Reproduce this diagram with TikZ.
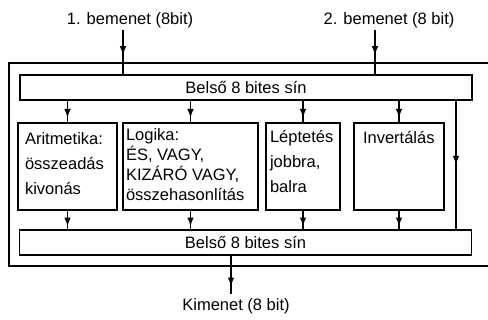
\documentclass[tikz,border=0pt]{standalone}
\usepackage{fontspec}
\setmainfont{Liberation Sans}
\usetikzlibrary{arrows.meta, decorations.markings}

\begin{document}
\begin{tikzpicture}[
    x=1pt, y=-1pt, line width=1.4pt,
    every node/.style={font=\fontsize{16.5}{20}\selectfont},
]

% ---------------------------------------------------------------- styles
\tikzset{
    busbar/.style={
        rectangle, draw, minimum width=452, minimum height=25, inner sep=0pt,
    },
    unitbox/.style={
        rectangle, draw, minimum height=87, inner sep=0pt,
    },
    unitlabel/.style={
        anchor=north west, inner sep=0pt, align=left,
    },
    midflow/.style={
        postaction={decorate},
        decoration={markings,
            mark=at position #1 with {\arrow{Latex[length=9pt, width=6.5pt]}}},
    },
}

\useasboundingbox (0,0) rectangle (488,320);

% ---------------------------------------------------------------- frame
\draw (494,63) -- (9,63) -- (9,266) -- (494,266);

% ---------------------------------------------------------------- buses
\node[busbar] (bustop) at (246,87.5) {Belső 8 bites sín};
\node[busbar] (busbot) at (245.5,242.5) {Belső 8 bites sín};

% ---------------------------------------------------------------- units
\node[unitbox, minimum width=99] (arit) at (67.5,166.5) {};
\node[unitbox, minimum width=135] (logic) at (190.5,166.5) {};
\node[unitbox, minimum width=74] (lept) at (303,166.5) {};
\node[unitbox, minimum width=90] (inv) at (399,166.5) {};

\node[unitlabel, font=\fontsize{16.5}{25}\selectfont]
    at ([shift={(7,10)}]arit.north west) {Aritmetika:\\összeadás\\kivonás};
\node[unitlabel, font=\fontsize{16.5}{20}\selectfont]
    at ([shift={(3,6)}]logic.north west)
    {Logika:\\ÉS, VAGY,\\KIZÁRÓ VAGY,\\összehasonlítás};
\node[unitlabel, font=\fontsize{16.5}{25}\selectfont]
    at ([shift={(4,7)}]lept.north west) {Léptetés\\jobbra,\\balra};
\node[unitlabel] at ([shift={(9,8)}]inv.north west) {Invertálás};

\foreach \b in {arit, logic, lept, inv} {
    \draw[midflow=0.8] (\b.north |- bustop.south) -- (\b.north);
    \draw[midflow=0.85] (\b.south) -- (\b.south |- busbot.north);
}

% bypass on the right
\coordinate (bypass) at (456,0);
\draw[midflow=0.5] (bypass |- bustop.south) -- (bypass |- busbot.north);

% ---------------------------------------------------------------- inputs
\node (in1) at (130,20) {1. bemenet (8bit)};
\node (in2) at (389,20) {2. bemenet (8 bit)};
\coordinate (p1) at (123,30);
\coordinate (p2) at (375,30);
\draw[midflow=0.57] (p1) -- (p1 |- bustop.north);
\draw[midflow=0.57] (p2) -- (p2 |- bustop.north);

% ---------------------------------------------------------------- output
\node (out) at (236,306) {Kimenet (8 bit)};
\coordinate (q) at (231,0);
\draw[midflow=0.8] (q |- busbot.south) -- (q |- out.north);

\end{tikzpicture}
\end{document}
